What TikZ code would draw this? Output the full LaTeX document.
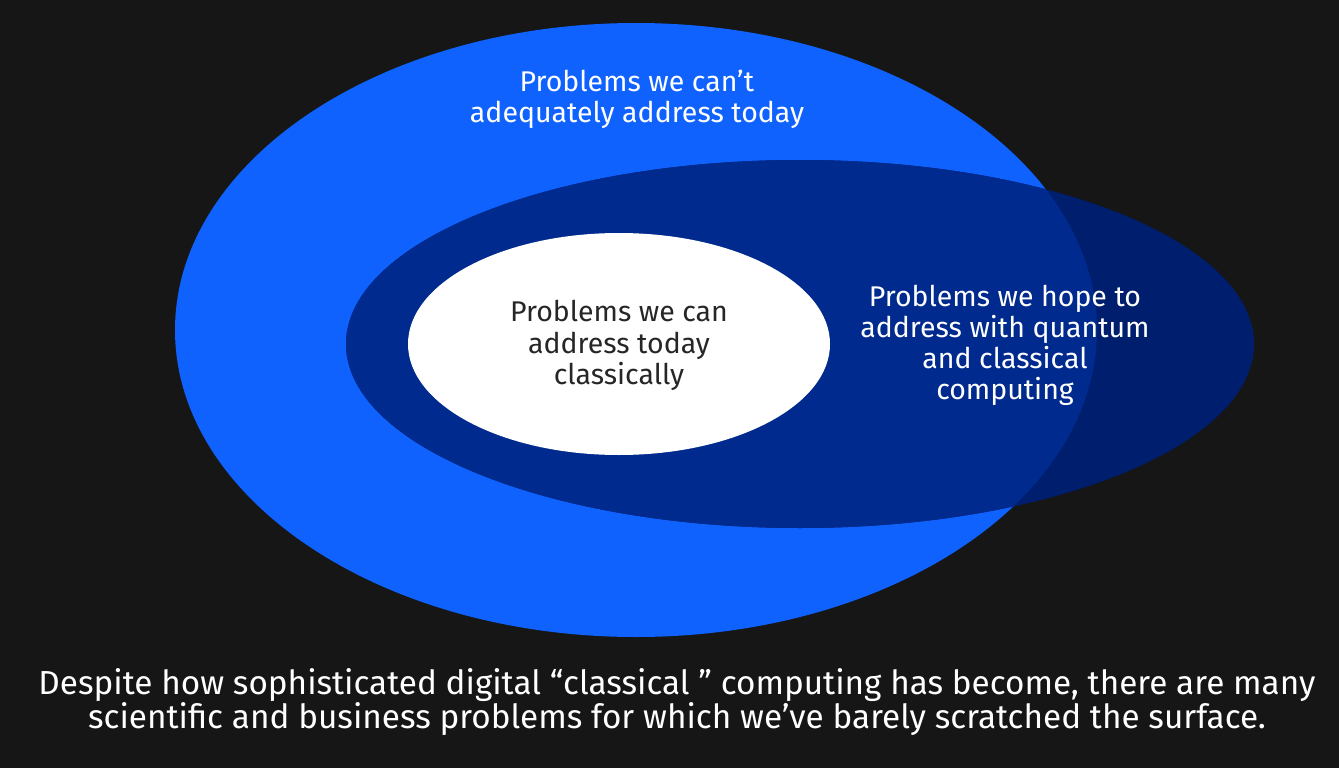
\documentclass[tikz,border=0pt]{standalone}
\usepackage{fontspec}
\setmainfont{Fira Sans}
\definecolor{bgc}{HTML}{161616}
\definecolor{bright}{HTML}{0F62FE}
\definecolor{darkin}{HTML}{002A8E}
\definecolor{darkout}{HTML}{001E6E}
\definecolor{txtdark}{HTML}{262626}
\begin{document}
\begin{tikzpicture}[x=1pt,y=-1pt,
  lbl/.style={align=center,text=white,font=\fontsize{28.5}{31}\selectfont},
  lbldark/.style={align=center,text=txtdark,font=\fontsize{28.5}{31.5}\selectfont},
  captext/.style={align=center,text=white,font=\fontsize{33.3}{34}\selectfont}]
\fill[bgc] (0,0) rectangle (1339,768);
\useasboundingbox (0,0) rectangle (1339,768);
% outer bright ellipse
\fill[bright] (636,330) ellipse [x radius=461, y radius=307];
% dark ellipse (outside part)
\fill[darkout] (800,344) ellipse [x radius=454, y radius=184];
% dark ellipse (inside bright part)
\begin{scope}
\clip (636,330) ellipse [x radius=461, y radius=307];
\fill[darkin] (800,344) ellipse [x radius=454, y radius=184];
\end{scope}
% white ellipse
\fill[white] (619,344) ellipse [x radius=211, y radius=111];
\node[lbl] (outer) at (637,99) {Problems we can’t\\adequately address today};
\node[lbldark] (inner) at (619,345.5) {Problems we can\\address today\\classically};
\node[lbl] (mid) at (1005,345) {Problems we hope to\\address with quantum\\and classical\\computing};
\node[captext] (caption) at (677,702) {Despite how sophisticated digital “classical ” computing has become, there are many\\scientific and business problems for which we’ve barely scratched the surface.};
\end{tikzpicture}
\end{document}
